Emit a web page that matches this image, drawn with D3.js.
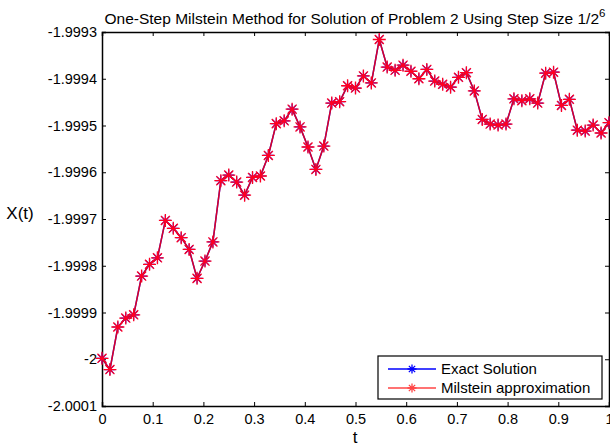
<!DOCTYPE html>
<html>
<head>
<meta charset="utf-8">
<script src="https://cdn.jsdelivr.net/npm/d3@7"></script>
<style>
  body { margin: 0; background: #fff; }
  svg { font-family: "Liberation Sans", Arial, sans-serif; }
</style>
</head>
<body>
<script>
const width = 610;
const height = 446;

// t = k/64, k = 0..64
const tValues = d3.range(65).map(k => k / 64);

const exactValues = [
  -1.999998, -2.000022, -1.999931, -1.999912, -1.999905, -1.999822, -1.999797, -1.999783,
  -1.999703, -1.999720, -1.999740, -1.999765, -1.999827, -1.999790, -1.999749, -1.999618,
  -1.999606, -1.999621, -1.999649, -1.999611, -1.999608, -1.999564, -1.999496, -1.999490,
  -1.999465, -1.999503, -1.999546, -1.999594, -1.999544, -1.999452, -1.999449, -1.999415,
  -1.999420, -1.999394, -1.999409, -1.999316, -1.999375, -1.999382, -1.999371, -1.999384,
  -1.999400, -1.999380, -1.999405, -1.999412, -1.999418, -1.999397, -1.999387, -1.999426,
  -1.999487, -1.999497, -1.999499, -1.999497, -1.999443, -1.999447, -1.999443, -1.999452,
  -1.999388, -1.999386, -1.999457, -1.999444, -1.999510, -1.999512, -1.999499, -1.999516,
  -1.999494
];
const milsteinValues = exactValues.slice();

const xTicks = [0, 0.1, 0.2, 0.3, 0.4, 0.5, 0.6, 0.7, 0.8, 0.9, 1];
const yTicks = [-2.0001, -2, -1.9999, -1.9998, -1.9997, -1.9996, -1.9995, -1.9994, -1.9993];
const yTickLabels = ["-2.0001", "-2", "-1.9999", "-1.9998", "-1.9997", "-1.9996", "-1.9995", "-1.9994", "-1.9993"];

const margin = {left: 102, top: 32, right: 1, bottom: 40};
const plotW = width - margin.left - margin.right;
const plotH = height - margin.top - margin.bottom;

const x = d3.scaleLinear().domain([0, 1]).range([0, plotW]);
const y = d3.scaleLinear().domain([-2.0001, -1.9993]).range([plotH, 0]);

const svg = d3.select("body").append("svg")
    .attr("width", width)
    .attr("height", height);

const g = svg.append("g")
    .attr("transform", `translate(${margin.left},${margin.top})`);

// axes with inward ticks, MATLAB style box
const tickLen = 4;
g.append("g")
    .attr("transform", `translate(0,${plotH})`)
    .call(d3.axisBottom(x).tickValues(xTicks).tickSize(-tickLen).tickPadding(8).tickFormat(d3.format("~g")));
g.append("g")
    .call(d3.axisTop(x).tickValues(xTicks).tickSize(-tickLen).tickFormat(""));
g.append("g")
    .call(d3.axisLeft(y).tickValues(yTicks).tickSize(-tickLen).tickPadding(5)
      .tickFormat((d, i) => yTickLabels[i]));
g.append("g")
    .attr("transform", `translate(${plotW},0)`)
    .call(d3.axisRight(y).tickValues(yTicks).tickSize(-tickLen).tickFormat(""));

g.selectAll(".domain").attr("stroke", "#000").attr("stroke-width", 1.5);
g.selectAll(".tick line").attr("stroke", "#000");
g.selectAll(".tick text").attr("font-size", 14.5).attr("fill", "#000");

// data series
const exact = tValues.map((t, i) => ({t, v: exactValues[i]}));
const milstein = tValues.map((t, i) => ({t, v: milsteinValues[i]}));

const line = d3.line().x(d => x(d.t)).y(d => y(d.v));

function star(sel, color, r, w) {
  const path = `M${-r},0H${r}M0,${-r}V${r}` +
    `M${-r*0.7},${-r*0.7}L${r*0.7},${r*0.7}M${-r*0.7},${r*0.7}L${r*0.7},${-r*0.7}`;
  sel.append("path").attr("d", path).attr("stroke", color).attr("stroke-width", w || 1.2).attr("fill", "none");
}

g.append("path").datum(exact)
    .attr("d", line).attr("fill", "none").attr("stroke", "#0000ff").attr("stroke-width", 1.5);
g.append("g").selectAll("g").data(exact).join("g")
    .attr("transform", d => `translate(${x(d.t)},${y(d.v)})`)
    .call(star, "#0000ff", 5.5, 1.2);

g.append("path").datum(milstein)
    .attr("d", line).attr("fill", "none").attr("stroke", "#ff0000").attr("stroke-opacity", 0.85).attr("stroke-width", 1.5);
g.append("g").selectAll("g").data(milstein).join("g")
    .attr("transform", d => `translate(${x(d.t)},${y(d.v)})`)
    .call(star, "#ff0022", 6.5, 1.3);

// title and labels
svg.append("text")
    .attr("x", 355).attr("y", 24)
    .attr("text-anchor", "middle").attr("font-size", 15.5)
    .text("One-Step Milstein Method for Solution of Problem 2 Using Step Size 1/2")
  .append("tspan")
    .attr("dy", -7).attr("font-size", 11.5).text("6");

svg.append("text")
    .attr("x", 355).attr("y", 443)
    .attr("text-anchor", "middle").attr("font-size", 17)
    .text("t");

svg.append("text")
    .attr("x", 20).attr("y", 219)
    .attr("text-anchor", "middle").attr("font-size", 17)
    .text("X(t)");

// legend
const legend = svg.append("g").attr("transform", "translate(378,356)");
legend.append("rect")
    .attr("width", 224).attr("height", 43)
    .attr("fill", "#fff").attr("stroke", "#000").attr("stroke-width", 1.2);
const legendItems = [
  {label: "Exact Solution", color: "#0000ff", y: 13},
  {label: "Milstein approximation", color: "#ff4444", y: 32}
];
legendItems.forEach(it => {
  legend.append("line")
      .attr("x1", 10).attr("x2", 58).attr("y1", it.y).attr("y2", it.y)
      .attr("stroke", it.color).attr("stroke-width", 1.5);
  legend.append("g").attr("transform", `translate(34,${it.y})`).call(star, it.color, 4.5, 1.3);
  legend.append("text")
      .attr("x", 63).attr("y", it.y + 5)
      .attr("font-size", 15)
      .text(it.label);
});
</script>
</body>
</html>
